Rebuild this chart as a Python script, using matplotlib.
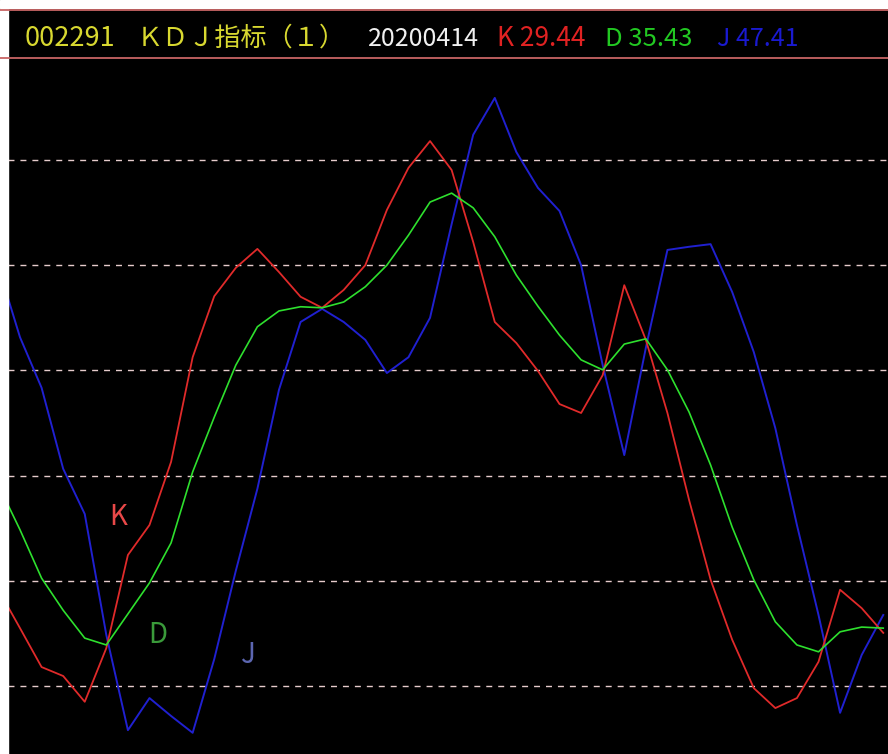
"""
KDJ indicator panel (002291) redrawn with matplotlib.
"""

import matplotlib
matplotlib.use('Agg')
import matplotlib.pyplot as plt
from matplotlib.patches import Rectangle
from matplotlib.lines import Line2D
import numpy as np


W, H = 888, 754
FONT = ['Noto Sans CJK SC', 'DejaVu Sans']

# Bar index (first one sits just left of the visible window)
bars = np.arange(-1, 41)

k_vals = [18.3, 11.0, 3.6, 1.9, -3.0, 7.2, 24.9, 30.6, 42.6, 62.5,
          74.1, 79.5, 83.1, 78.7, 74.0, 71.9, 75.3, 80.0, 90.5, 98.5,
          103.6, 98.1, 84.4, 69.2, 65.2, 59.9, 53.6, 51.9, 59.1, 76.2,
          65.8, 51.9, 35.4, 20.2, 8.8, -0.4, -4.2, -2.3, 4.6, 18.3,
          14.8, 10.1]
d_vals = [38.2, 29.7, 20.5, 14.4, 9.1, 7.8, 13.7, 19.6, 27.2, 40.7,
          51.1, 61.0, 68.3, 71.3, 72.1, 71.9, 73.0, 75.9, 80.0, 85.7,
          92.0, 93.7, 90.9, 85.4, 78.1, 72.2, 66.7, 62.0, 60.1, 65.0,
          66.0, 60.1, 52.1, 42.0, 30.2, 20.2, 12.2, 7.8, 6.5, 10.3,
          11.2, 11.0]
j_vals = [79.7, 66.3, 56.7, 41.3, 32.7, 9.7, -8.4, -2.3, -5.7, -8.9,
          5.1, 21.9, 37.5, 56.3, 69.2, 71.7, 69.2, 65.8, 59.5, 62.5,
          70.0, 87.8, 104.8, 111.8, 101.5, 94.7, 90.3, 80.0, 61.0, 43.9,
          64.3, 82.9, 83.5, 84.0, 74.9, 63.5, 49.0, 30.6, 13.5, -5.1,
          5.9, 13.5]

grid_levels = [0, 20, 40, 60, 80, 100]

header_parts = [
    ('002291', '#d8d830', 19.5),
    ('ＫＤＪ指标（１）', '#d8d830', 18.8),
    ('20200414', '#f0f0f0', 18),
    ('K 29.44', '#e02222', 19),
    ('D 35.43', '#22c822', 18.5),
    ('J 47.41', '#1a1ad0', 18),
]
header_x = [25, 137, 368, 497, 605, 717]

line_labels = [('K', '#e84848'), ('D', '#3a9a3a'), ('J', '#5c66b0')]
label_xy = [(118, 525), (158, 643), (247, 663)]


def fig_xy(x, y):
    # pixel position (from top-left) -> figure fraction
    return x / W, 1 - y / H


def main():
    fig = plt.figure(figsize=(W / 100, H / 100), dpi=100, facecolor='black')

    # Window chrome: white margins and red separators
    fig.patches.append(Rectangle((0, 1 - 8 / H), 1, 8 / H, color='white',
                                 transform=fig.transFigure, zorder=0))
    fig.patches.append(Rectangle((0, 0), 8 / W, 1 - 9 / H, color='white',
                                 transform=fig.transFigure, zorder=0))
    for py in (9.5, 57.5):
        fig.lines.append(Line2D([0, 1], [1 - py / H] * 2, color='#c86464',
                                lw=1.3, transform=fig.transFigure))

    # Header text
    for (txt, col, size), x in zip(header_parts, header_x):
        fx, fy = fig_xy(x, 46)
        fig.text(fx, fy, txt, color=col, fontsize=size, family=FONT,
                 ha='left', va='baseline')

    # Indicator panel
    ax = fig.add_axes([8 / W, 0, 880 / W, (H - 58) / H])
    ax.set_facecolor('black')
    ax.set_xlim(-0.556, 40.22)
    ax.set_ylim(-12.93, 119.39)
    ax.axis('off')

    for lvl in grid_levels:
        ax.axhline(lvl, color='#e6cccc', lw=1.0, dashes=(4.3, 4.3), zorder=1)

    ax.plot(bars, k_vals, color='#e02a2a', lw=1.3, zorder=3)
    ax.plot(bars, d_vals, color='#2ee02e', lw=1.2, zorder=3)
    ax.plot(bars, j_vals, color='#2020d0', lw=1.4, zorder=2)

    for (txt, col), (x, y) in zip(line_labels, label_xy):
        fx, fy = fig_xy(x, y)
        fig.text(fx, fy, txt, color=col, fontsize=20, family=FONT,
                 ha='center', va='baseline')

    fig.savefig('out.png', dpi=100, facecolor='black')


if __name__ == '__main__':
    main()
